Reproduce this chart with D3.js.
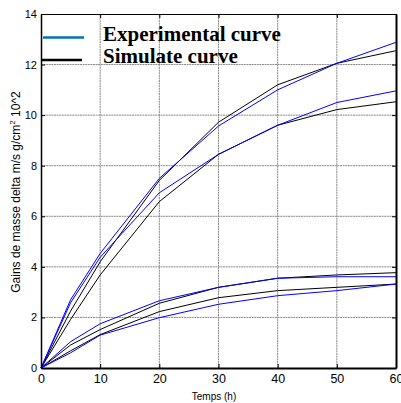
<!DOCTYPE html>
<html>
<head>
<meta charset="utf-8">
<script src="https://cdn.jsdelivr.net/npm/d3@7/dist/d3.min.js"></script>
<style>
html,body{margin:0;padding:0;background:#fff;}
svg{display:block;}
</style>
</head>
<body>
<script>
const times = [0, 5, 10, 20, 30, 40, 50, 60];
const xTicks = [0, 10, 20, 30, 40, 50, 60];
const yTicks = [0, 2, 4, 6, 8, 10, 12, 14];

// experimental curves (blue)
const exp1 = [0, 2.70, 4.53, 7.50, 9.57, 11.00, 12.05, 12.88];
const exp2 = [0, 2.58, 4.38, 6.93, 8.45, 9.60, 10.50, 10.96];
const exp3 = [0, 1.04, 1.75, 2.66, 3.19, 3.55, 3.61, 3.61];
const exp4 = [0, 0.60, 1.30, 1.99, 2.52, 2.86, 3.06, 3.32];
// simulated curves (black)
const sim1 = [0, 2.25, 4.20, 7.42, 9.72, 11.20, 12.05, 12.55];
const sim2 = [0, 1.92, 3.68, 6.58, 8.45, 9.60, 10.22, 10.53];
const sim3 = [0, 0.91, 1.52, 2.56, 3.19, 3.55, 3.68, 3.77];
const sim4 = [0, 0.68, 1.32, 2.23, 2.78, 3.06, 3.19, 3.32];

const legendLabels = ["Experimental curve", "Simulate curve"];

const W = 401, H = 403;
const svg = d3.select("body").append("svg").attr("width", W).attr("height", H);

const x = d3.scaleLinear().domain([0, 60]).range([41, 396]);
const y = d3.scaleLinear().domain([0, 14]).range([368, 14]);

// grid
const grid = svg.append("g");
grid.selectAll("line.gx").data(xTicks.slice(1, -1)).enter().append("line")
  .attr("x1", d => x(d)).attr("x2", d => x(d)).attr("y1", y(0)).attr("y2", y(14))
  .attr("stroke", "#8a8a8a").attr("stroke-width", 1).attr("stroke-dasharray", "2,0.6");
grid.selectAll("line.gy").data(yTicks.slice(1, -1)).enter().append("line")
  .attr("y1", d => y(d)).attr("y2", d => y(d)).attr("x1", x(0)).attr("x2", x(60))
  .attr("stroke", "#8a8a8a").attr("stroke-width", 1).attr("stroke-dasharray", "2,0.6");

// lines
const line = d3.line().x((d, i) => x(times[i])).y(d => y(d));
const series = [
  {v: sim1, c: "#000"}, {v: sim2, c: "#000"}, {v: sim3, c: "#000"}, {v: sim4, c: "#000"},
  {v: exp1, c: "#0000ff"}, {v: exp2, c: "#0000ff"}, {v: exp3, c: "#0000ff"}, {v: exp4, c: "#0000ff"}
];
svg.append("g").selectAll("path").data(series).enter().append("path")
  .attr("d", d => line(d.v)).attr("fill", "none").attr("stroke", d => d.c).attr("stroke-width", 1);

// axes
const axB = svg.append("g").attr("transform", `translate(0,${y(0)})`)
  .call(d3.axisBottom(x).tickValues(xTicks).tickSize(-4).tickPadding(6).tickSizeOuter(0));
const axL = svg.append("g").attr("transform", `translate(${x(0)},0)`)
  .call(d3.axisLeft(y).tickValues(yTicks).tickSize(-4).tickPadding(4).tickSizeOuter(0));
const axT = svg.append("g").attr("transform", `translate(0,${y(14)})`)
  .call(d3.axisTop(x).tickValues(xTicks).tickSize(-4).tickFormat("").tickSizeOuter(0));
const axR = svg.append("g").attr("transform", `translate(${x(60)},0)`)
  .call(d3.axisRight(y).tickValues(yTicks).tickSize(-4).tickFormat("").tickSizeOuter(0));

[axB, axL, axT, axR].forEach(a => {
  a.select(".domain").attr("stroke", "#000");
  a.selectAll(".tick line").attr("stroke", "#000");
});
axB.select(".domain").attr("stroke-width", 2);
axR.select(".domain").attr("stroke-width", 2);
axL.select(".domain").attr("stroke-width", 1.5);
axT.select(".domain").attr("stroke-width", 1.2);

axB.selectAll(".tick text").attr("font-family", "Liberation Sans, Arial, sans-serif")
  .attr("font-size", "12.5px").attr("fill", "#000");
axL.selectAll(".tick text").attr("font-family", "Liberation Sans, Arial, sans-serif")
  .attr("font-size", "11px").attr("fill", "#000");

// axis labels
svg.append("text").attr("x", 214).attr("y", 400).attr("text-anchor", "middle")
  .attr("font-family", "Liberation Sans, Arial, sans-serif").attr("font-size", "10px")
  .text("Temps (h)");

const yl = svg.append("text").attr("transform", "translate(20,192) rotate(-90)")
  .attr("text-anchor", "middle")
  .attr("font-family", "Liberation Sans, Arial, sans-serif").attr("font-size", "12px");
yl.append("tspan").text("Gains de masse delta m/s g/cm");
yl.append("tspan").attr("dy", "-5").attr("font-size", "8px").text("2");
yl.append("tspan").attr("dy", "5").text(" 10^2");

// legend
const lg = svg.append("g");
lg.append("line").attr("x1", 43).attr("x2", 84).attr("y1", 37.5).attr("y2", 37.5)
  .attr("stroke", "#0072bd").attr("stroke-width", 2.5);
lg.append("line").attr("x1", 41).attr("x2", 82).attr("y1", 60).attr("y2", 60)
  .attr("stroke", "#000").attr("stroke-width", 2.5);
lg.selectAll("text").data(legendLabels).enter().append("text")
  .attr("x", 103).attr("y", (d, i) => 40.5 + i * 22)
  .attr("font-family", "Liberation Serif, Times New Roman, serif")
  .attr("font-weight", "bold").attr("font-size", "21px").attr("fill", "#000")
  .text(d => d);
</script>
</body>
</html>
